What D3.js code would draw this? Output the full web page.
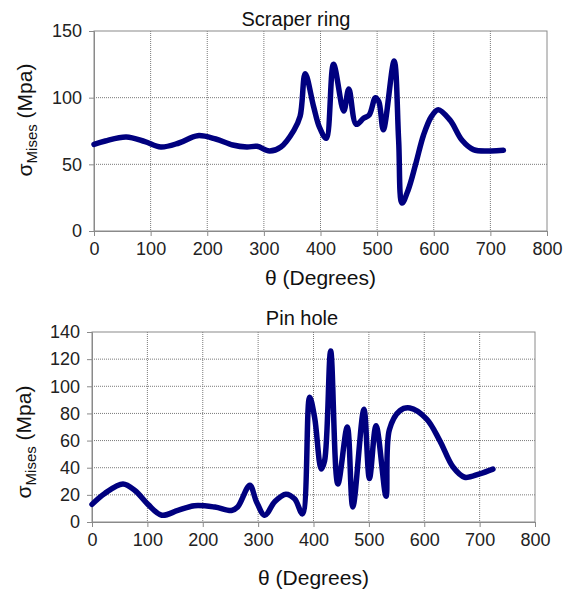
<!DOCTYPE html>
<html lang="en">
<head>
<meta charset="UTF-8">
<title>Von Mises stress vs crank angle</title>
<style>
    body { margin: 0; background: #fff; font-family: "Liberation Sans", Arial, sans-serif; }
    .grid line { stroke: #7a7a7a; stroke-dasharray: 1,1; }
    .tick text { fill: #222; }
</style>
</head>
<body>
<script src="https://d3js.org/d3.v7.min.js"></script>
<script>
// crank angle (deg) and von Mises stress (MPa)
const scraperDeg    = [0, 20, 57, 90, 118, 150, 183, 215, 245, 270, 288, 310, 330, 353, 364, 373, 388, 398, 410, 423, 441, 450, 463, 476, 486, 497, 503, 511, 530, 538, 544, 555, 568, 582, 596, 608, 629, 650, 670, 700, 723];
const scraperStress = [65, 67.5, 70.5, 67, 63, 66, 71.5, 69, 64.5, 63, 63.5, 60, 63, 75.5, 86, 118, 93, 78, 69.5, 125, 90, 106.5, 80, 84.5, 87, 100, 97, 76, 127.5, 68, 21, 31, 50, 72, 86, 91, 83, 68, 61, 60, 60.5];

const pinDeg    = [0, 23, 56, 78, 101, 126, 155, 185, 222, 252, 263, 285, 297, 312, 330, 350, 366, 380, 393, 402, 414, 420, 431, 444, 461, 471, 491, 501, 513, 531, 537, 556, 574, 604, 628, 652, 673, 700, 724];
const pinStress = [13, 21, 28, 23, 13, 5, 8.5, 12, 11, 8.5, 11, 27, 15, 5, 15, 20.5, 17, 6, 92, 77, 39, 45, 126, 28, 70, 11, 83, 32, 71, 19, 68, 82, 84, 76, 60, 40.5, 33, 35.5, 39];

const xTicks = [0, 100, 200, 300, 400, 500, 600, 700, 800];
const scraperYTicks = [0, 50, 100, 150];
const pinYTicks = [0, 20, 40, 60, 80, 100, 120, 140];

const width = 569, height = 590;
const svg = d3.select("body").append("svg")
    .attr("width", width)
    .attr("height", height);

function drawPanel(p) {
    const x = d3.scaleLinear().domain([0, 800]).range([p.left, p.right]);
    const y = d3.scaleLinear().domain([0, p.yMax]).range([p.bottom, p.top]);
    const g = svg.append("g");

    // dotted grid
    const grid = g.append("g").attr("class", "grid");
    grid.selectAll(".gx").data(xTicks.slice(1, -1)).enter().append("line")
        .attr("x1", d => x(d)).attr("x2", d => x(d))
        .attr("y1", p.top).attr("y2", p.bottom);
    grid.selectAll(".gy").data(p.yTicks.slice(1, -1)).enter().append("line")
        .attr("x1", p.left).attr("x2", p.right)
        .attr("y1", d => y(d)).attr("y2", d => y(d));

    // frame
    g.append("rect")
        .attr("x", p.left).attr("y", p.top)
        .attr("width", p.right - p.left).attr("height", p.bottom - p.top)
        .attr("fill", "none").attr("stroke", "#8a8a8a").attr("stroke-width", 1);

    const xAxis = g.append("g")
        .attr("transform", `translate(0,${p.bottom})`)
        .call(d3.axisBottom(x).tickValues(xTicks).tickSize(5).tickPadding(6));
    const yAxis = g.append("g")
        .attr("transform", `translate(${p.left},0)`)
        .call(d3.axisLeft(y).tickValues(p.yTicks).tickSize(5).tickPadding(7));
    [xAxis, yAxis].forEach(a => {
        a.select(".domain").attr("stroke", "#8a8a8a");
        a.selectAll(".tick line").attr("stroke", "#8a8a8a");
        a.selectAll(".tick text")
            .attr("font-family", "Liberation Sans, Arial, sans-serif")
            .attr("font-size", 18);
    });

    // curve
    const line = d3.line()
        .x((d, i) => x(p.deg[i]))
        .y(d => y(d))
        .curve(d3.curveCatmullRom.alpha(0.5));
    g.append("path")
        .datum(p.stress)
        .attr("d", line)
        .attr("fill", "none")
        .attr("stroke", "#00007f")
        .attr("stroke-width", 5.5)
        .attr("stroke-linejoin", "round")
        .attr("stroke-linecap", "round");

    // titles
    g.append("text")
        .attr("x", p.titleX).attr("y", p.titleY)
        .attr("text-anchor", "middle")
        .attr("font-size", 20).attr("fill", "#111")
        .text(p.title);

    g.append("text")
        .attr("x", (p.left + p.right) / 2).attr("y", p.xLabelY)
        .attr("text-anchor", "middle")
        .attr("font-size", 21).attr("fill", "#111")
        .text("\u03b8 (Degrees)");

    const yl = g.append("text")
        .attr("transform", `translate(${p.yLabelX},${p.yLabelY}) rotate(-90)`)
        .attr("text-anchor", "middle")
        .attr("font-size", 21).attr("fill", "#111");
    yl.append("tspan").text("\u03c3");
    yl.append("tspan").attr("font-size", 15).attr("dy", 5).text("Mises");
    yl.append("tspan").attr("dy", -5).text(" (Mpa)");
}

drawPanel({
    title: "Scraper ring", deg: scraperDeg, stress: scraperStress,
    yMax: 150, yTicks: scraperYTicks,
    left: 94, right: 547, top: 31, bottom: 231,
    titleX: 296, titleY: 26, xLabelY: 285, yLabelX: 32, yLabelY: 120
});

drawPanel({
    title: "Pin hole", deg: pinDeg, stress: pinStress,
    yMax: 140, yTicks: pinYTicks,
    left: 92, right: 535, top: 332, bottom: 522,
    titleX: 302, titleY: 325, xLabelY: 585, yLabelX: 31, yLabelY: 442
});
</script>
</body>
</html>
